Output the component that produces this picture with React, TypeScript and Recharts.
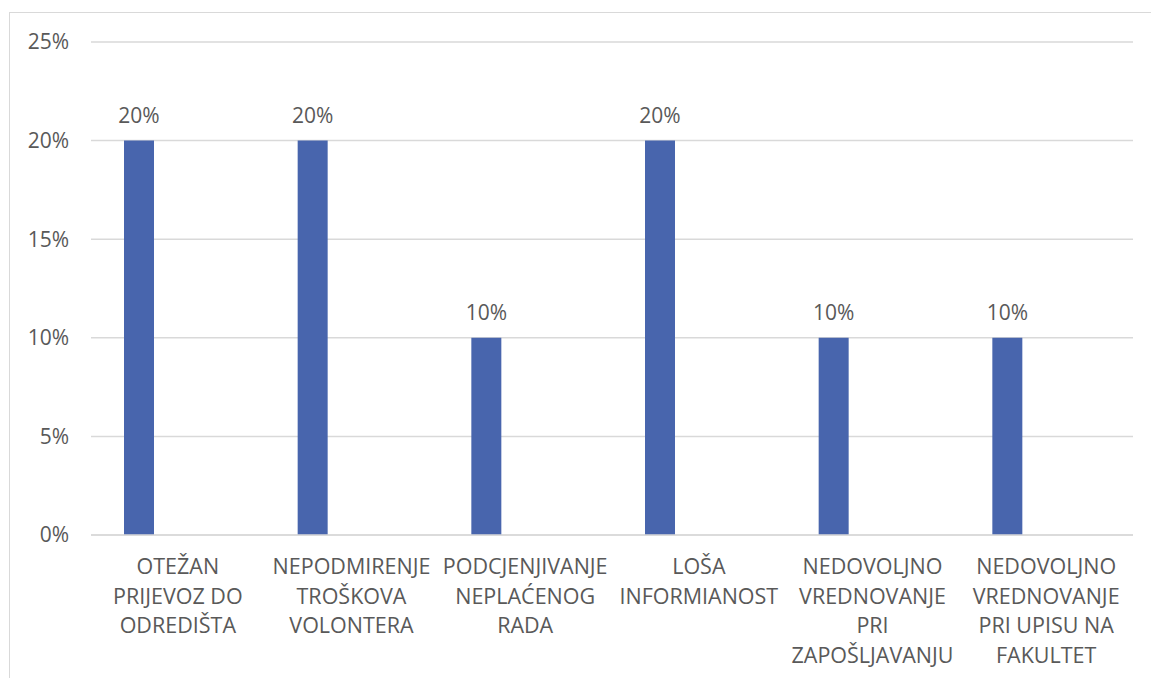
import React from "react";
import { BarChart, Bar, XAxis, YAxis, CartesianGrid, LabelList } from "recharts";

const categories = [
  "OTEŽAN\nPRIJEVOZ DO\nODREDIŠTA",
  "NEPODMIRENJE\nTROŠKOVA\nVOLONTERA",
  "PODCJENJIVANJE\nNEPLAĆENOG\nRADA",
  "LOŠA\nINFORMIANOST",
  "NEDOVOLJNO\nVREDNOVANJE\nPRI\nZAPOŠLJAVANJU",
  "NEDOVOLJNO\nVREDNOVANJE\nPRI UPISU NA\nFAKULTET",
];
const shares = [20, 20, 10, 20, 10, 10];
const emptySeries: (number | null)[] = [null, null, null, null, null, null];
const yTicks = [0, 5, 10, 15, 20, 25];

const data = categories.map((name, i) => ({ name, share: shares[i], other: emptySeries[i] }));

const FONT = "'Open Sans', 'Noto Sans', sans-serif";
const TEXT = "#595959";
const GRID = "#d9d9d9";

const CategoryTick = (props: any) => {
  const { x, y, payload } = props;
  const lines = String(payload.value).split("\n");
  return (
    <g>
      {lines.map((line: string, i: number) => (
        <text key={i} x={x} y={y + 39 + i * 29.5} textAnchor="middle" fill={TEXT} fontSize={21.5} fontFamily={FONT}>
          {line}
        </text>
      ))}
    </g>
  );
};

export default function App() {
  return (
    <div style={{ position: "absolute", left: 0, top: 0, width: 1151, height: 678, overflow: "hidden", background: "#fff" }}>
      <div style={{ position: "absolute", left: 9, top: 12, width: 1160, height: 700, border: `1px solid ${GRID}` }} />
      <div style={{ position: "absolute", left: 0, top: 0 }}>
        <BarChart width={1151} height={678} data={data} margin={{ top: 42, right: 18, bottom: 0, left: 0 }} barSize={30} barGap={48}>
          <CartesianGrid vertical={false} stroke={GRID} strokeWidth={1.5} />
          <XAxis
            dataKey="name"
            axisLine={{ stroke: GRID, strokeWidth: 1.5 }}
            tickLine={false}
            tickSize={0}
            tickMargin={0}
            height={143}
            interval={0}
            tick={<CategoryTick />}
          />
          <YAxis
            width={91}
            domain={[0, 25]}
            ticks={yTicks}
            axisLine={false}
            tickLine={false}
            tickSize={0}
            tickMargin={22}
            tickFormatter={(v: number) => `${v}%`}
            tick={{ fill: TEXT, fontSize: 21, fontFamily: FONT }}
          />
          <Bar dataKey="share" fill="#4865ad" isAnimationActive={false}>
            <LabelList
              dataKey="share"
              position="top"
              offset={18}
              formatter={(v: any) => `${v}%`}
              fill={TEXT}
              fontSize={21}
              fontFamily={FONT}
            />
          </Bar>
          <Bar dataKey="other" fill="#ed7d31" isAnimationActive={false} />
        </BarChart>
      </div>
    </div>
  );
}
